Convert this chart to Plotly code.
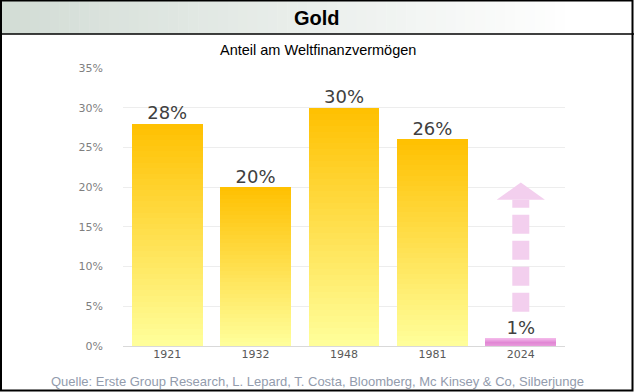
import plotly.graph_objects as go

# ---------------- data ----------------
years = ["1921", "1932", "1948", "1981", "2024"]
shares = [28, 20, 30, 26, 1]
share_labels = ["28%", "20%", "30%", "26%", "1%"]
y_ticks = [0, 5, 10, 15, 20, 25, 30, 35]
y_tick_labels = ["0%", "5%", "10%", "15%", "20%", "25%", "30%", "35%"]

title = "Gold"
subtitle = "Anteil am Weltfinanzvermögen"
source = "Quelle: Erste Group Research, L. Lepard, T. Costa, Bloomberg, Mc Kinsey & Co, Silberjunge"

# arrow (decoration over the 2024 category), in axis units
arrow_cat = 4
arrow_y0, arrow_y1, arrow_tip = 4.3, 18.4, 20.6
arrow_half = 0.273

# ---------------- geometry ----------------
W, H = 634, 392
L, R, T, B = 123, 69, 68, 46
PW, PH = W - L - R, H - T - B


def px2x(px):
    return (px - L) / PW


def py2y(py):
    return (H - B - py) / PH


def hex2rgb(h):
    h = h.lstrip("#")
    return tuple(int(h[i:i + 2], 16) for i in (0, 2, 4))


def lerp(c1, c2, t):
    a, b = hex2rgb(c1), hex2rgb(c2)
    return "rgb(%d,%d,%d)" % tuple(round(a[i] + (b[i] - a[i]) * t) for i in range(3))


def pink(t):  # t: 0 bottom -> 1 top
    if t < 0.5:
        return lerp("#E9A0DD", "#E186D4", t / 0.5)
    return lerp("#E186D4", "#F3B8EA", (t - 0.5) / 0.5)


fig = go.Figure()

N = 40
for i in range(N):
    t = (i + 0.5) / N
    cols = []
    for yr in years:
        if yr == "2024":
            cols.append(pink(t))
        else:
            cols.append(lerp("#FFFF9C", "#FFC000", t))
    fig.add_trace(go.Bar(
        x=years, y=[v / N for v in shares],
        marker=dict(color=cols, line=dict(width=0)),
        hoverinfo="skip", showlegend=False,
    ))

fig.add_trace(go.Scatter(
    x=years, y=shares, mode="text", text=share_labels,
    textposition="top center",
    textfont=dict(family="DejaVu Sans", size=18, color="#404040"),
    hoverinfo="skip", showlegend=False, cliponaxis=False,
))

shapes = []
# header gradient
n_strips = 64
sw = W / n_strips
for k in range(n_strips):
    t = min(1.0, k / (n_strips * 0.9))
    shapes.append(dict(
        type="rect", xref="paper", yref="paper",
        x0=px2x(k * sw), x1=px2x((k + 1) * sw + 0.5),
        y0=py2y(34), y1=py2y(0),
        fillcolor=lerp("#D2DCD5", "#FFFFFF", t), line=dict(width=0), layer="below",
    ))
# header separator
shapes.append(dict(type="line", xref="paper", yref="paper",
                   x0=px2x(0), x1=px2x(W), y0=py2y(34), y1=py2y(34),
                   line=dict(color="black", width=1.5)))
# outer border
shapes.append(dict(type="rect", xref="paper", yref="paper",
                   x0=px2x(1), x1=px2x(632.5), y0=py2y(390.5), y1=py2y(0.5),
                   line=dict(color="black", width=2)))
# arrow shaft
shapes.append(dict(type="line", xref="x", yref="y",
                   x0=arrow_cat, x1=arrow_cat, y0=arrow_y0, y1=arrow_y1,
                   line=dict(color="#F3CFEE", width=17, dash="19px,7px")))
# arrow head
shapes.append(dict(type="path", xref="x", yref="y",
                   path="M %f,%f L %f,%f L %f,%f Z" % (
                       arrow_cat - arrow_half, arrow_y1,
                       arrow_cat + arrow_half, arrow_y1,
                       arrow_cat, arrow_tip),
                   fillcolor="#F3CFEE", line=dict(width=0)))

annotations = [
    dict(text="<b>" + title + "</b>", xref="paper", yref="paper",
         x=px2x(W / 2), y=py2y(18), showarrow=False,
         font=dict(family="Liberation Sans", size=20, color="black"),
         xanchor="center", yanchor="middle"),
    dict(text=subtitle, xref="paper", yref="paper",
         x=px2x(318), y=py2y(50), showarrow=False,
         font=dict(family="Liberation Sans", size=14.5, color="black"),
         xanchor="center", yanchor="middle"),
    dict(text=source, xref="paper", yref="paper",
         x=px2x(317), y=py2y(381), showarrow=False,
         font=dict(family="Liberation Sans", size=13, color="#939CAD"),
         xanchor="center", yanchor="middle"),
]

fig.update_layout(
    width=W, height=H,
    margin=dict(l=L, r=R, t=T, b=B, pad=0),
    paper_bgcolor="white", plot_bgcolor="white",
    barmode="stack", bargap=0.2,
    shapes=shapes, annotations=annotations,
    showlegend=False,
    xaxis=dict(type="category", categoryarray=years, categoryorder="array",
               showgrid=False, zeroline=False, showline=False, ticks="",
               tickfont=dict(family="DejaVu Sans", size=11, color="#595959"),
               fixedrange=True),
    yaxis=dict(range=[0, 35], tickvals=y_ticks, ticktext=y_tick_labels,
               showgrid=True, gridcolor="#EDEDED", gridwidth=1,
               zeroline=True, zerolinecolor="#D9D9D9", zerolinewidth=1,
               showline=False, ticks="", ticklabelstandoff=19,
               tickfont=dict(family="DejaVu Sans", size=11, color="#7F7F7F"),
               fixedrange=True),
)

fig.write_html(
    "out.html",
    config={"displayModeBar": False},
    post_script="document.body.style.margin='0';document.body.style.overflow='hidden';",
)
